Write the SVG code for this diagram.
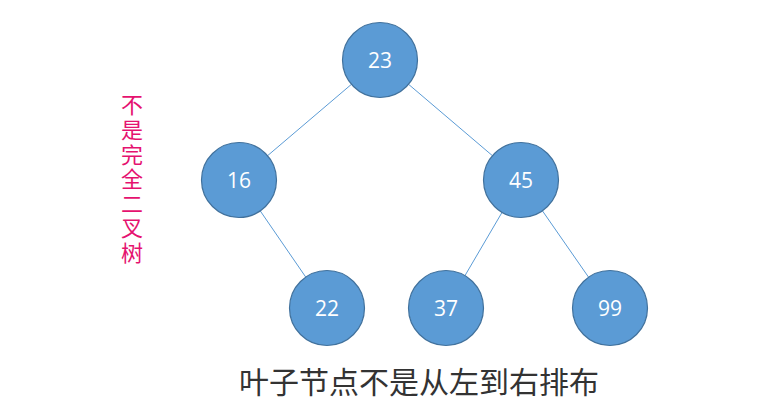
<svg xmlns="http://www.w3.org/2000/svg" width="765" height="409" viewBox="0 0 765 409">
<style>
.node{fill:#5b9bd5;stroke:#41719c;stroke-width:1.2}
.num{fill:#fff;font-family:"Open Sans","Noto Sans",sans-serif;font-size:21px;text-anchor:middle;dominant-baseline:central}
.edge{stroke:#5b9bd5;stroke-width:1}
.side{fill:#e5126f;font-family:"Noto Sans CJK SC",sans-serif;font-size:22px;writing-mode:vertical-rl;letter-spacing:2.6px}
.cap{fill:#333;font-family:"Noto Sans CJK SC",sans-serif;font-size:30px;text-anchor:middle}
</style>
<rect width="765" height="409" fill="#fff"/>
<g id="connectors">
<line class="edge" x1="380" y1="60" x2="239" y2="180"/>
<line class="edge" x1="380" y1="60" x2="521" y2="180"/>
<line class="edge" x1="239" y1="180" x2="327" y2="308"/>
<line class="edge" x1="521" y1="180" x2="446" y2="308"/>
<line class="edge" x1="521" y1="180" x2="610" y2="308"/>
</g>
<g id="n23"><circle class="node" cx="380" cy="60" r="37.5"/><text class="num" x="380" y="60">23</text></g>
<g id="n16"><circle class="node" cx="239" cy="180" r="37.5"/><text class="num" x="239" y="180">16</text></g>
<g id="n45"><circle class="node" cx="521" cy="180" r="37.5"/><text class="num" x="521" y="180">45</text></g>
<g id="n22"><circle class="node" cx="327" cy="308" r="37.5"/><text class="num" x="327" y="308">22</text></g>
<g id="n37"><circle class="node" cx="446" cy="308" r="37.5"/><text class="num" x="446" y="308">37</text></g>
<g id="n99"><circle class="node" cx="610" cy="308" r="37.5"/><text class="num" x="610" y="308">99</text></g>
<g id="side-label"><text class="side" x="132" y="94">不是完全二叉树</text></g>
<g id="caption"><text class="cap" x="419" y="393">叶子节点不是从左到右排布</text></g>
</svg>
